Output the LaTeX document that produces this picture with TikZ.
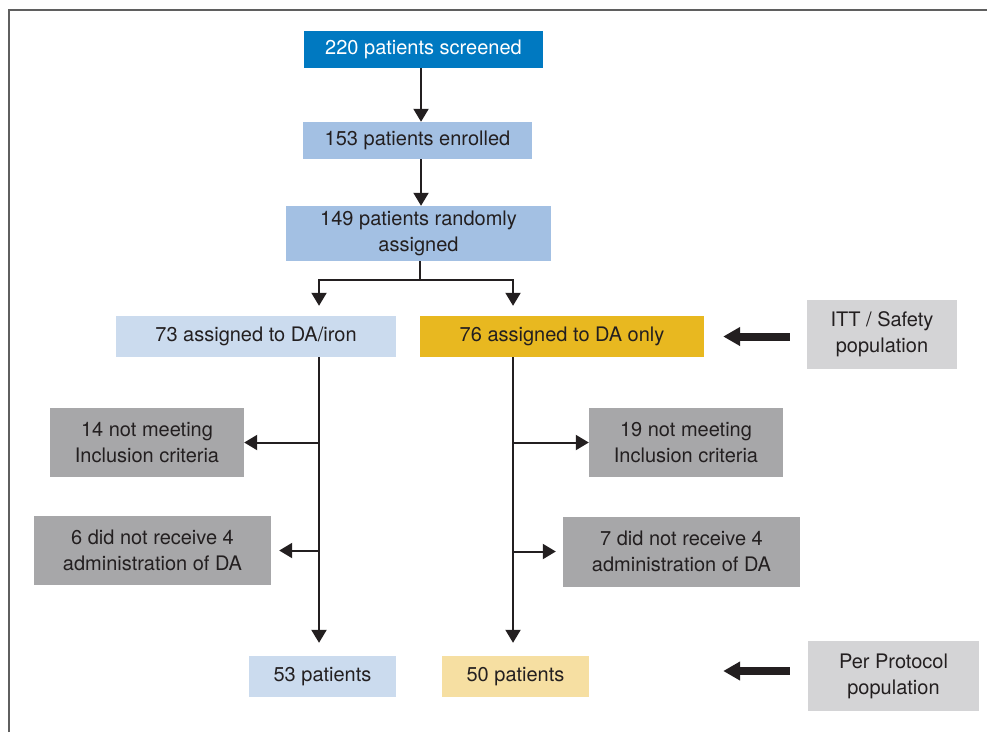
\documentclass[tikz,border=0pt]{standalone}
\usepackage{fontspec}
\setmainfont{TeX Gyre Heros}
\usetikzlibrary{arrows.meta}
\definecolor{screenblue}{RGB}{0,121,193}
\definecolor{midblue}{RGB}{163,192,227}
\definecolor{paleblue}{RGB}{203,219,238}
\definecolor{gold}{RGB}{232,184,32}
\definecolor{palegold}{RGB}{246,223,162}
\definecolor{darkgrey}{RGB}{167,167,169}
\definecolor{lightgrey}{RGB}{212,212,214}
\definecolor{inkgrey}{RGB}{35,31,32}
\definecolor{framegrey}{RGB}{95,95,95}
\tikzset{box/.style = {inner sep = 0, align = center, text = inkgrey, font = \fontsize{20pt}{26pt}\selectfont}}
\tikzset{arr/.style = {draw = inkgrey, line width = 2pt, -{Triangle[length = 13pt, width = 15pt]}}}
\tikzset{fat arr/.style = {draw = inkgrey, line width = 8pt, -{Triangle[length = 17pt, width = 18pt]}}}

\begin{document}
\begin{tikzpicture}[x = 1pt, y = -1pt]
    \useasboundingbox (0, 0) rectangle (987, 732);
    \draw [framegrey, line width = 1.6pt] (9, 732) -- (9, 10) -- (987, 10);

    \node [box, fill = screenblue, text = white, minimum width = 239pt, minimum height = 37pt] (screened) at (423.5, 49.5) {220 patients screened};
    \node [box, fill = midblue, minimum width = 229pt, minimum height = 37pt] (enrolled) at (417.5, 140.5) {153 patients enrolled};
    \node [box, fill = midblue, minimum width = 265pt, minimum height = 55pt] (randomised) at (418.5, 233.5) {149 patients randomly\\assigned};

    \node [box, fill = paleblue, minimum width = 280pt, minimum height = 41pt] (iron) at (256, 336.5) {73 assigned to DA/iron};
    \node [box, fill = gold, minimum width = 284pt, minimum height = 41pt] (only) at (562, 336.5) {76 assigned to DA only};
    \node [box, fill = lightgrey, minimum width = 150pt, minimum height = 69pt] (itt) at (882, 334.5) {ITT / Safety\\population};

    \node [box, fill = darkgrey, minimum width = 194pt, minimum height = 69pt] (excl14) at (147, 442.5) {14 not meeting\\Inclusion criteria};
    \node [box, fill = darkgrey, minimum width = 237pt, minimum height = 69pt] (excl6) at (152.5, 550.5) {6 did not receive 4\\administration of DA};
    \node [box, fill = darkgrey, minimum width = 194pt, minimum height = 69pt] (excl19) at (686, 442.5) {19 not meeting\\Inclusion criteria};
    \node [box, fill = darkgrey, minimum width = 237pt, minimum height = 70pt] (excl7) at (681.5, 551.5) {7 did not receive 4\\administration of DA};

    \node [box, fill = paleblue, minimum width = 147pt, minimum height = 41pt] (pat53) at (322.5, 676.5) {53 patients};
    \node [box, fill = palegold, minimum width = 147pt, minimum height = 41pt] (pat50) at (515.5, 676.5) {50 patients};
    \node [box, fill = lightgrey, minimum width = 171pt, minimum height = 70pt] (pp) at (893.5, 676) {Per Protocol\\population};

    \draw [arr] ([xshift = -2.5pt] screened.south) -- ([xshift = -2.5pt] screened.south |- enrolled.north);
    \draw [arr] ([xshift = 3.5pt] enrolled.south) -- ([xshift = 3.5pt] enrolled.south |- randomised.north);

    \coordinate (fork) at (420, 280);
    \coordinate (forkL) at (319, 280);
    \coordinate (forkR) at (513, 280);
    \draw [inkgrey, line width = 2pt] (randomised.south -| fork) -- (fork);
    \draw [inkgrey, line width = 2pt] ([xshift = -1pt] forkL) -- ([xshift = 1pt] forkR);
    \draw [arr, shorten >= 10pt] (forkL) -- (forkL |- iron.north);
    \draw [arr, shorten >= 10pt] (forkR) -- (forkR |- only.north);

    \draw [arr, shorten >= 13pt] (iron.south -| forkL) -- (pat53.north -| forkL);
    \draw [arr, shorten >= 13pt] (only.south -| forkR) -- (pat50.north -| forkR);

    \draw [arr] (forkL |- excl14) -- (excl14.east);
    \draw [arr, shorten >= 8pt] (forkL |- excl6) -- (excl6.east);
    \draw [arr] (forkR |- excl19) -- (excl19.west);
    \draw [arr, shorten >= 7pt] (forkR |- excl7) -- (excl7.west);

    \draw [fat arr, shorten <= 17pt, shorten >= 19pt] ([yshift = -2pt] itt.west) -- ([yshift = -2pt] itt.west -| only.east);
    \draw [fat arr, shorten <= 18pt, shorten >= 19pt] ([yshift = 5pt] pp.west) -- ([yshift = 5pt] pp.west -| only.east);
\end{tikzpicture}
\end{document}
